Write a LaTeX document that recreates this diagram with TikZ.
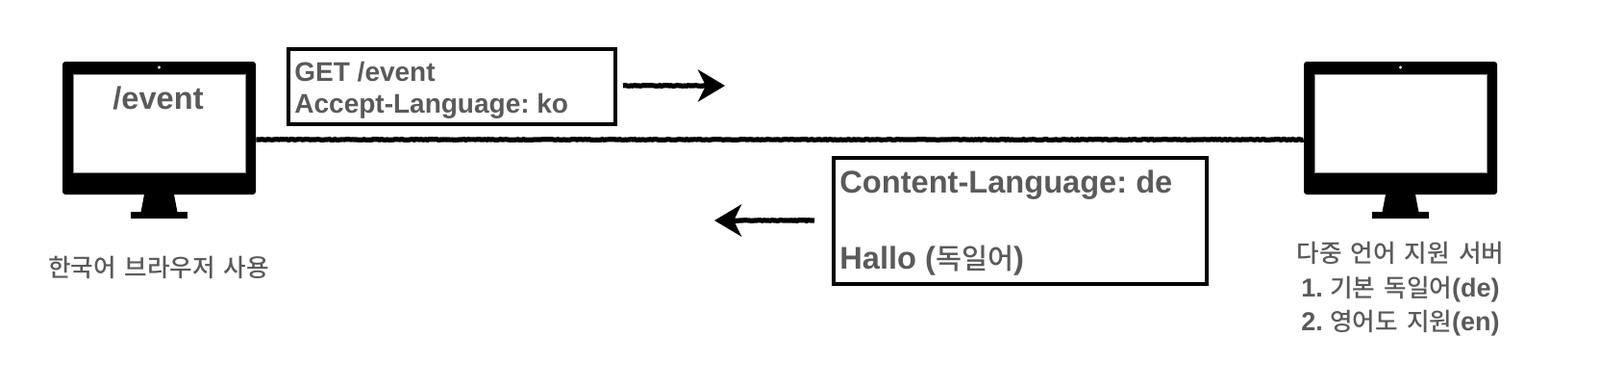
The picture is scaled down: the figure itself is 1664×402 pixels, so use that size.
\documentclass[tikz,border=0pt]{standalone}
\usepackage{fontspec}
\setmainfont{Liberation Sans}[BoldFont={Liberation Sans Bold}]
\newfontfamily\krfont{Noto Sans CJK KR Medium}[WordSpace=1.55]
\usetikzlibrary{arrows.meta,decorations.pathmorphing}
\definecolor{txtgray}{HTML}{5A5A5A}
\newcommand{\kr}[2][12.8pt]{{\mdseries\krfont\fontsize{#1}{15pt}\selectfont #2}}
\frenchspacing
\tikzset{
  monbody/.style={fill=black,rounded corners=1.5pt,minimum width=100.5pt,minimum height=69pt,inner sep=0pt},
  monscreen/.style={fill=white,draw=black!45,line width=0.25pt,minimum width=89.5pt,minimum height=51pt,inner sep=0pt},
  msgbox/.style={draw=black,line width=1.9pt,fill=white,inner sep=0pt},
  txt/.style={text=txtgray,inner sep=0pt,anchor=base west},
  captxt/.style={text=txtgray,font=\bfseries\fontsize{13.5pt}{15pt}\selectfont,inner sep=0pt,anchor=base},
  rough/.style={line width=2.6pt,black,decoration={random steps,segment length=1pt,amplitude=0.2pt},decorate},
  headtip/.style={line width=2.6pt,black,-{Stealth[length=14pt,width=16.5pt,inset=4pt]}}
}
\newcommand{\monitor}[3]{%
  \node[monbody] (#1) at (#2,#3) {};
  \node[monscreen] (#1s) at (#2,#3-5) {};
  \fill[white] (#2,#3-63) circle (0.8pt);
  \fill[black] (#2-15.5,#3+69) -- (#2+15.5,#3+69) -- (#2+19.5,#3+90) -- (#2-19.5,#3+90) -- cycle;
  \node[fill=black,minimum width=29.5pt,minimum height=3.5pt,inner sep=0pt] (#1b) at (#2,#3+90.5) {};
}
\begin{document}
\begin{tikzpicture}[x=0.5pt,y=-0.5pt]
\useasboundingbox (0,0) rectangle (1664,402);
\monitor{lmon}{165.5}{133}
\monitor{rmon}{1456.5}{133}

\coordinate (wire) at (700,145);
\draw[rough] (lmon.east |- wire) -- (rmon.west |- wire);

\node[msgbox,minimum width=170pt,minimum height=39pt] (req) at (470,90) {};
\node[msgbox,minimum width=194pt,minimum height=65.5pt] (resp) at (1061,229.5) {};

\coordinate (a1s) at (648,89);
\coordinate (a1m) at (736,89);
\coordinate (a1e) at (754,89);
\coordinate (a2s) at (847,229);
\coordinate (a2m) at (761,229);
\coordinate (a2e) at (743,229);
\draw[rough] (a1s) -- (a1m);
\draw[headtip] (a1m) -- (a1e);
\draw[rough] (a2s) -- (a2m);
\draw[headtip] (a2m) -- (a2e);

\node[txt,font=\bfseries\fontsize{16.3pt}{18pt}\selectfont] (t0) at (117,113) {/event};
\node[txt,font=\bfseries\fontsize{14pt}{17pt}\selectfont] (t1) at (306,84) {GET /event};
\node[txt,font=\bfseries\fontsize{14pt}{17pt}\selectfont] (t2) at (306,117) {Accept-Language: ko};
\node[txt,font=\bfseries\fontsize{16.3pt}{18pt}\selectfont] (t3) at (873,200) {Content-Language: de};
\node[txt,font=\bfseries\fontsize{16.3pt}{18pt}\selectfont] (t4) at (873,279) {Hallo (\kr[14.7pt]{독일어})};

\node[captxt] (c0) at (165,287) {\kr{한국어 브라우저 사용}};
\node[captxt] (c1) at (1456.5,272) {\kr{다중 언어 지원 서버}};
\node[captxt] (c2) at (1456.5,308) {1. \kr{기본 독일어}(de)};
\node[captxt] (c3) at (1456.5,343) {2. \kr{영어도 지원}(en)};
\end{tikzpicture}
\end{document}
